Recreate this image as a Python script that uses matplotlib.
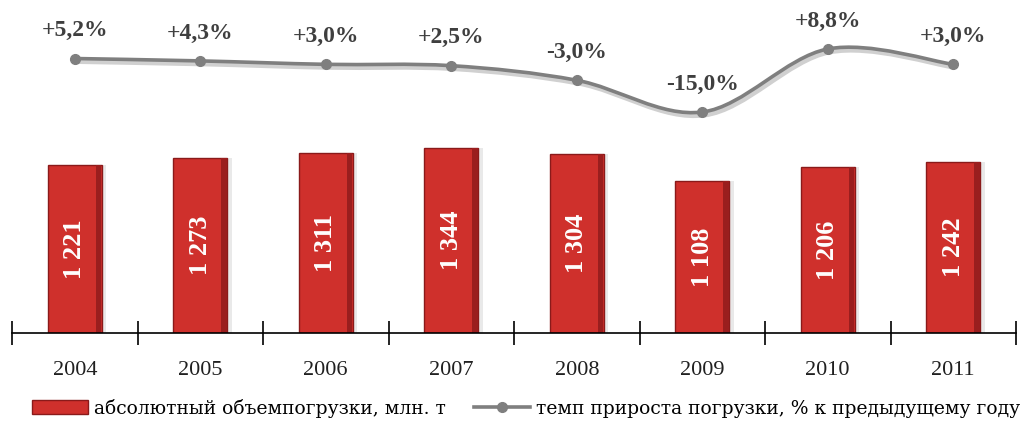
import matplotlib
matplotlib.use("Agg")
import matplotlib.pyplot as plt
import numpy as np
from matplotlib.path import Path
from matplotlib.patches import PathPatch, Patch
from matplotlib.lines import Line2D
import matplotlib.transforms as mtransforms

years = ["2004", "2005", "2006", "2007", "2008", "2009", "2010", "2011"]
volume = [1221, 1273, 1311, 1344, 1304, 1108, 1206, 1242]
growth = [5.2, 4.3, 3.0, 2.5, -3.0, -15.0, 8.8, 3.0]
bar_labels = ["1 221", "1 273", "1 311", "1 344", "1 304", "1 108", "1 206", "1 242"]
growth_labels = ["+5,2%", "+4,3%", "+3,0%", "+2,5%", "-3,0%", "-15,0%", "+8,8%", "+3,0%"]
legend_bar = "абсолютный объемпогрузки, млн. т"
legend_line = "темп прироста погрузки, % к предыдущему году"

plt.rcParams['font.family'] = ['Liberation Serif', 'DejaVu Serif']

fig = plt.figure(figsize=(10.27, 4.21), dpi=100)
ax = fig.add_axes([12/1027, (421-333)/421, (1016-12)/1027, 323/421])
ax2 = ax.twinx()

x = np.arange(len(years))
# bars
bw = 0.43
ax.bar(x + 0.035, volume, width=bw, color='#b8b8b8', alpha=0.3, zorder=1)
ax.bar(x, volume, width=bw, color='#cf302c', edgecolor='#8a1a1a', linewidth=1.0, zorder=2)
ax.bar(x + bw*0.44, volume, width=bw*0.1, color='#9a1e1e', linewidth=0, zorder=2.5)
for xi, v, lab in zip(x, volume, bar_labels):
    ax.text(xi, v/2, lab, rotation=90, ha='center', va='center', color='white',
            fontsize=19, fontweight='bold', zorder=3)

ax.set_xlim(-0.5, len(years)-0.5)
ax.set_ylim(0, 323/0.1375)
ax.set_xticks(np.arange(-0.5, len(years), 1.0))
ax.set_xticklabels([])
ax.set_xticks(x, minor=True)
ax.set_xticklabels(years, minor=True, fontsize=16, color='#202020')
ax.tick_params(axis='x', which='major', direction='inout', length=17, width=1.2, color='black')
ax.tick_params(axis='x', which='minor', length=0, pad=20)
ax.set_yticks([])
for s in ['top', 'right', 'left']:
    ax.spines[s].set_visible(False)
ax.spines['bottom'].set_linewidth(1.2)

# smooth line on secondary axis
top = (72.3-10)/2.65
ax2.set_ylim(top - 323/2.65, top)
ax2.set_yticks([])
for s in ax2.spines.values():
    s.set_visible(False)

pts = np.column_stack([x, growth]).astype(float)
verts = [tuple(pts[0])]
codes = [Path.MOVETO]
n = len(pts)
for i in range(n-1):
    p0 = pts[i-1] if i > 0 else pts[i]
    p1 = pts[i]
    p2 = pts[i+1]
    p3 = pts[i+2] if i+2 < n else pts[i+1]
    c1 = p1 + (p2 - p0)/6
    c2 = p2 - (p3 - p1)/6
    verts += [tuple(c1), tuple(c2), tuple(p2)]
    codes += [Path.CURVE4]*3
shadow = PathPatch(Path(verts, codes), facecolor='none', edgecolor='#d0d0d0', lw=3.5, zorder=3,
                   transform=mtransforms.offset_copy(ax2.transData, fig=fig, x=2, y=-3, units='dots'))
ax2.add_patch(shadow)
ax2.add_patch(PathPatch(Path(verts, codes), facecolor='none', edgecolor='#7f7f7f', lw=2.6, zorder=4))
ax2.plot(x, growth, 'o', color='#7f7f7f', markersize=7, zorder=5)
for xi, g, lab in zip(x, growth, growth_labels):
    ax2.annotate(lab, (xi, g), xytext=(0, 20), textcoords='offset points', ha='center', va='center',
                 fontsize=17, fontweight='bold', color='#3f3f3f', zorder=6)

handles = [Patch(facecolor='#cf302c', edgecolor='#8a1a1a'),
           Line2D([], [], color='#7f7f7f', lw=2.6, marker='o', markersize=7)]
fig.legend(handles, [legend_bar, legend_line], loc='center', bbox_to_anchor=(0.512, (421-408)/421),
           ncol=2, frameon=False, prop={'family': 'DejaVu Serif', 'size': 13.5},
           handlelength=3.0, handleheight=0.8,
           columnspacing=1.5, handletextpad=0.3, borderaxespad=0)

fig.savefig("out.png", dpi=100)
